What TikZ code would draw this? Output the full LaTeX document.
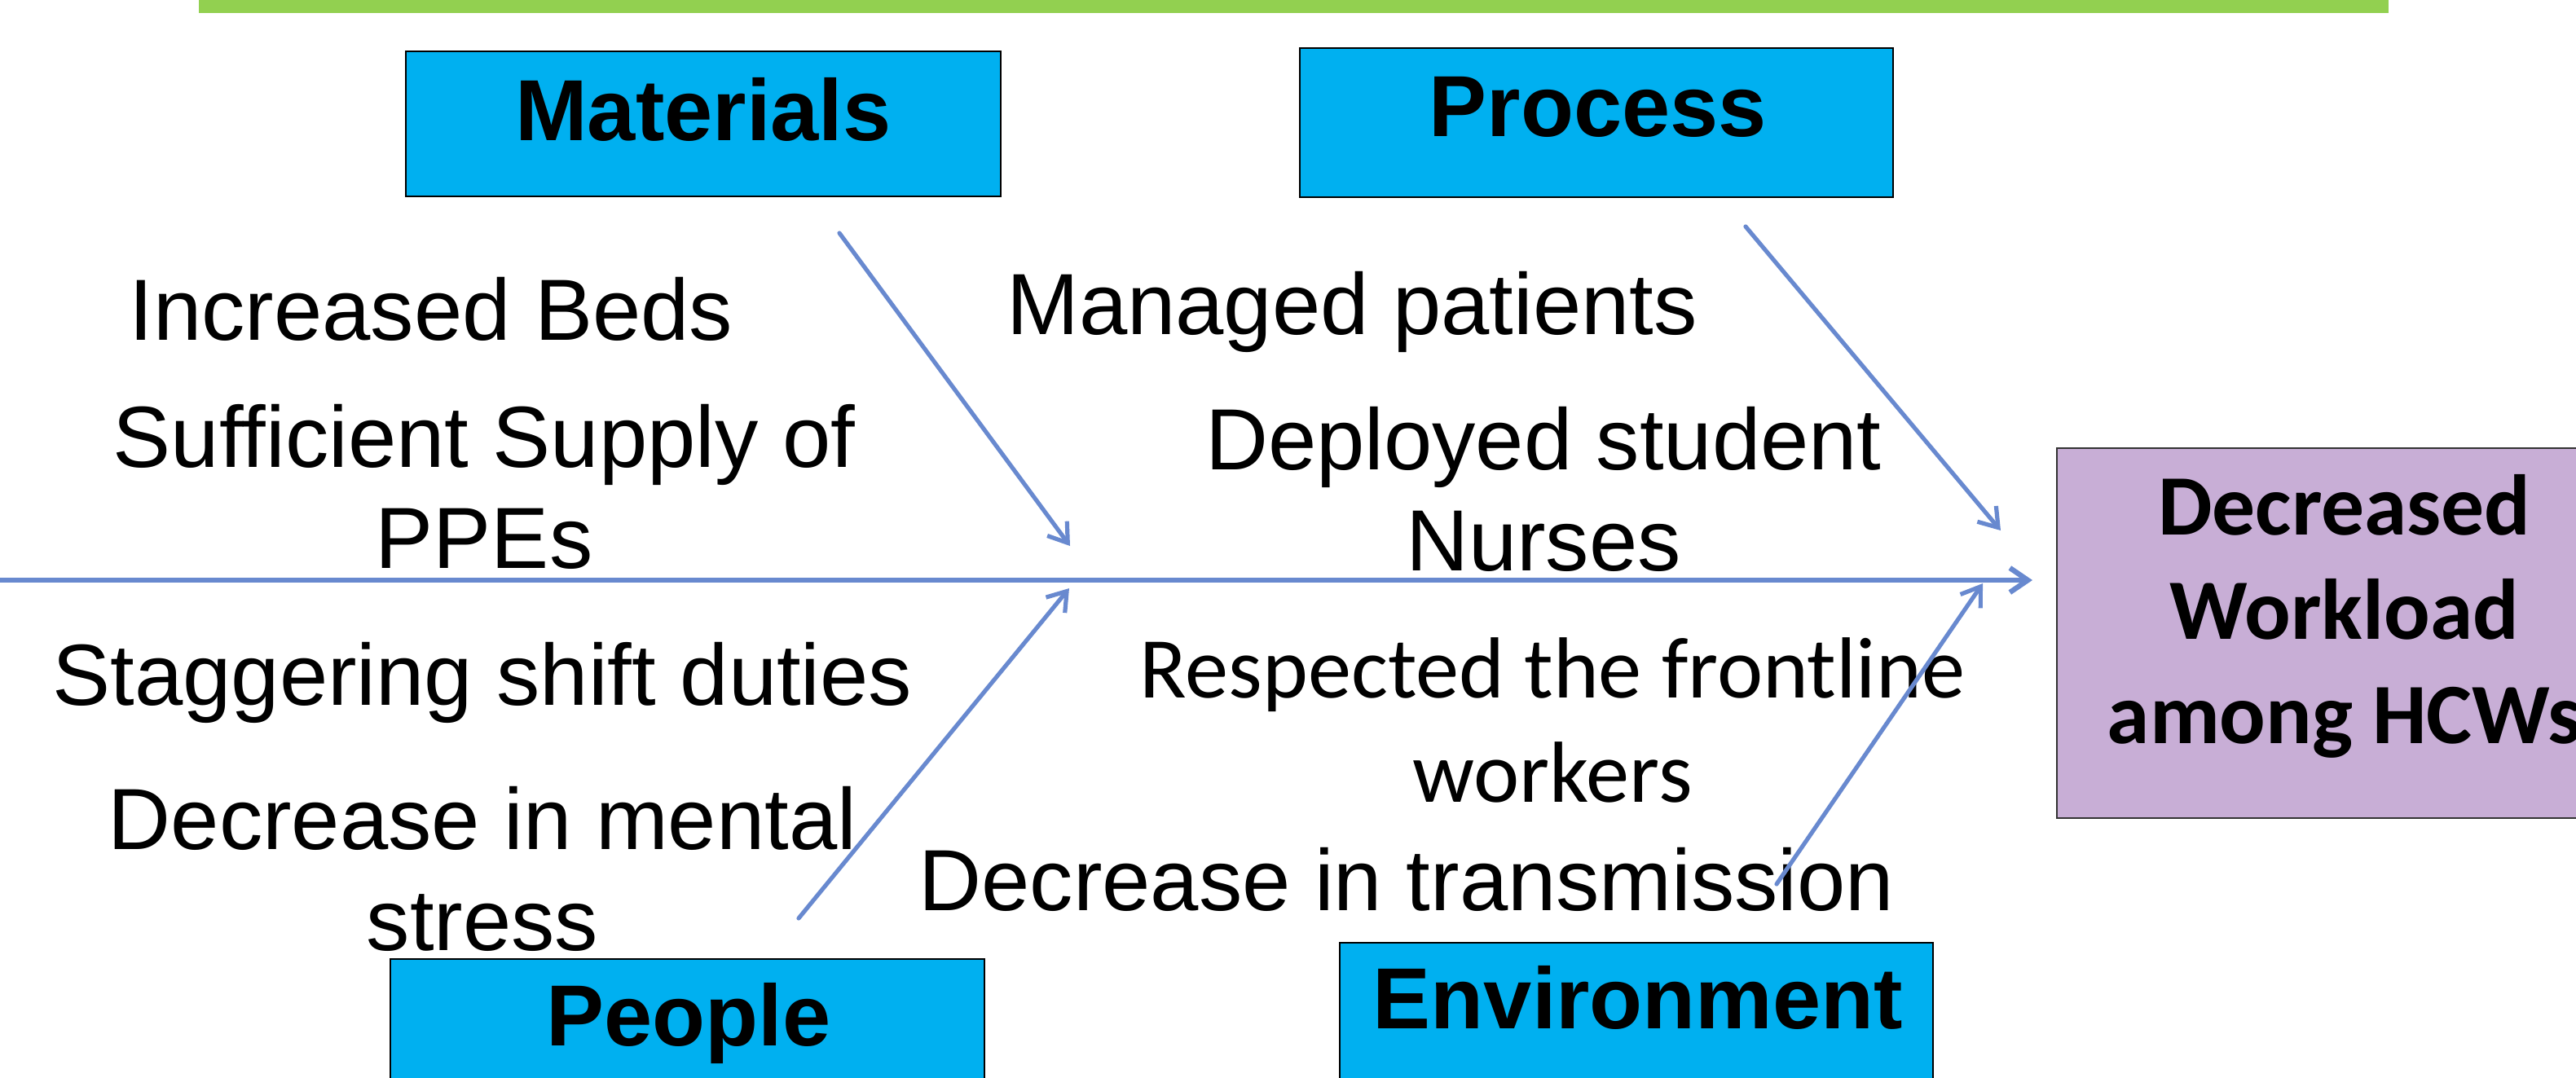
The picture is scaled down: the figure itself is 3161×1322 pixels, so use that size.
\documentclass[tikz,border=0pt]{standalone}
\usepackage{fontspec}
\setmainfont{Liberation Sans}
\newfontfamily\calib{Carlito}
\usetikzlibrary{arrows.meta}

\definecolor{bonecol}{RGB}{104,137,207}
\definecolor{catfill}{RGB}{0,176,240}
\definecolor{effectfill}{RGB}{200,174,214}
\definecolor{barfill}{RGB}{146,208,80}

\begin{document}
% one unit = one pixel of a 3161 x 1322 canvas, y pointing down;
% multi-line labels are placed by the baseline of their last line
\begin{tikzpicture}[x=0.25pt,y=-0.25pt,
  catbox/.style={draw=black, line width=0.6pt, fill=catfill, inner sep=0pt},
  catlabel/.style={anchor=base, inner sep=0pt, font=\fontsize{26.6}{31}\selectfont\bfseries},
  cause/.style={anchor=base, align=center, inner sep=0pt, font=\fontsize{26.65}{31}\selectfont},
  causecal/.style={anchor=base, align=center, inner sep=0pt, font=\calib\fontsize{26.6}{32}\selectfont},
  effectbox/.style={draw=black!80, line width=0.6pt, fill=effectfill, inner sep=0pt,
    minimum width=176.5pt, minimum height=113.5pt},
  effectlabel/.style={anchor=base, align=center, inner sep=0pt, font=\calib\bfseries\fontsize{26.4}{31.9}\selectfont},
  bone/.style={draw=bonecol, line width=1.3pt, line cap=round,
    -{Straight Barb[length=5.5pt,width=7.5pt]}},
  spine/.style={draw=bonecol, line width=1.6pt,
    -{Straight Barb[length=5.5pt,width=7.5pt]}}
]
\useasboundingbox (0,0) rectangle (3161,1322);
\clip (0,0) rectangle (3161,1322);

% title strip along the top edge
\fill[barfill] (244,0) rectangle (2931,16);

% category boxes
\node[catbox, minimum width=182.5pt, minimum height=44.5pt] (materials) at (863,152) {};
\node[catlabel] (materialslbl) at (863,172) {Materials};
\node[catbox, minimum width=182pt, minimum height=45.75pt] (process) at (1959,150.5) {};
\node[catlabel] (processlbl) at (1961,167) {Process};
\node[catbox, minimum width=182.25pt, minimum height=45.75pt] (people) at (843.5,1268.5) {};
\node[catlabel] (peoplelbl) at (845,1283) {People};
\node[catbox, minimum width=182pt, minimum height=45.75pt] (environment) at (2008,1248.5) {};
\node[catlabel] (environmentlbl) at (2010,1262) {Environment};

% effect box
\node[effectbox] (effect) at (2877,777) {};
\node[effectlabel] (effectlbl) at (2877,912) {Decreased\\Workload\\among HCWs};

% causes
\node[cause] (beds) at (529,417) {Increased Beds};
\node[cause] (ppe) at (594,697) {Sufficient Supply of\\PPEs};
\node[cause] (shifts) at (592,865) {Staggering shift duties};
\node[cause] (stress) at (592,1166) {Decrease in mental\\stress};
\node[cause] (patients) at (1659,410) {Managed patients};
\node[cause] (nurses) at (1894,700) {Deployed student\\Nurses};
\node[causecal] (respect) at (1905,984) {Respected the frontline\\workers};
\node[cause] (transmission) at (1726,1117) {Decrease in transmission};

% bone end points
\coordinate (spineS) at (0,712);
\coordinate (spineH) at (2494,712);
\coordinate (matS) at (1030,286);
\coordinate (matH) at (1313,670);
\coordinate (peoS) at (980,1127);
\coordinate (peoH) at (1312,722);
\coordinate (proS) at (2142,278);
\coordinate (proH) at (2455,651);
\coordinate (envS) at (2180,1085);
\coordinate (envH) at (2433,716);

% fish bones
\draw[spine] (spineS) -- (spineH);
\draw[bone] (matS) -- (matH);
\draw[bone] (peoS) -- (peoH);
\draw[bone] (proS) -- (proH);
\draw[bone] (envS) -- (envH);
\end{tikzpicture}
\end{document}
